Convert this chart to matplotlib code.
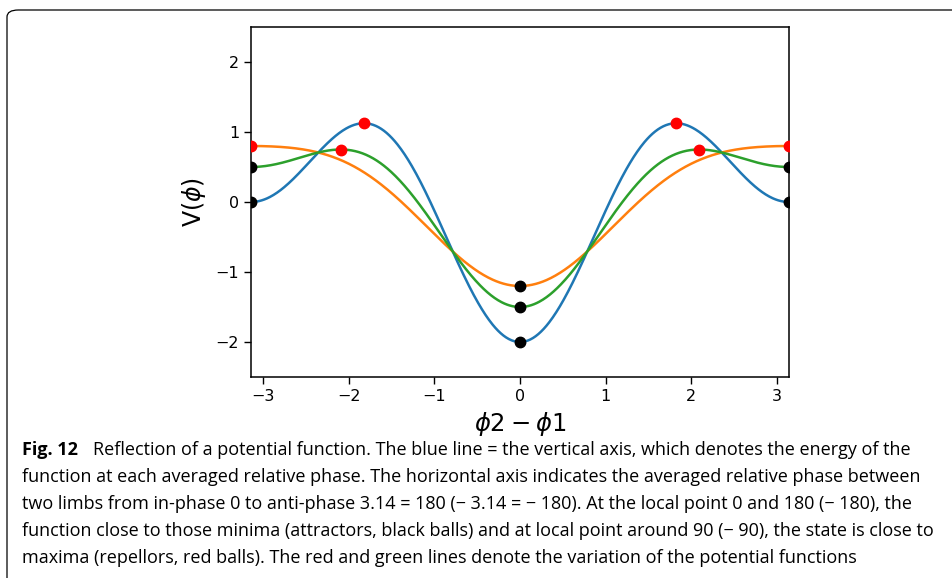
import numpy as np
import matplotlib.pyplot as plt
from matplotlib.patches import FancyBboxPatch

# HKB potential V(phi) = -a cos(phi) - b cos(2 phi), one curve per (a, b) pair
coef_a = [1.0, 1.0, 1.0]
coef_b = [1.0, 0.2, 0.5]
line_colors = ['tab:blue', 'tab:orange', 'tab:green']

# attractors (minima) and repellors (maxima)
min_x = [0.0, 0.0, 0.0, -np.pi, np.pi, -np.pi, np.pi]
min_y = [-2.0, -1.5, -1.2, 0.0, 0.0, 0.5, 0.5]
max_x = [-1.823, 1.823, -2.094, 2.094, -np.pi, np.pi]
max_y = [1.125, 1.125, 0.75, 0.75, 0.8, 0.8]

x_ticks = [-3, -2, -1, 0, 1, 2, 3]
y_ticks = [-2, -1, 0, 1, 2]

caption_head = "Fig. 12"
caption_lines = [
    "Reflection of a potential function. The blue line = the vertical axis, which denotes the energy of the",
    "function at each averaged relative phase. The horizontal axis indicates the averaged relative phase between",
    "two limbs from in-phase 0 to anti-phase 3.14 = 180 (\u2212 3.14 = \u2212 180). At the local point 0 and 180 (\u2212 180), the",
    "function close to those minima (attractors, black balls) and at local point around 90 (\u2212 90), the state is close to",
    "maxima (repellors, red balls). The red and green lines denote the variation of the potential functions",
]

W, H = 953, 578
fig = plt.figure(figsize=(W / 100, H / 100), dpi=100)

# rounded frame around the figure and caption
frame = FancyBboxPatch((7 / W, -30 / H), 1.2, (H - 10 + 30) / H,
                       boxstyle="round,pad=0,rounding_size=0.012",
                       transform=fig.transFigure, fill=False,
                       edgecolor='black', linewidth=0.9)
fig.patches.append(frame)

ax = fig.add_axes([251 / W, (H - 377) / H, 538 / W, 350 / H])

phi = np.linspace(-np.pi, np.pi, 600)
for a, b, c in zip(coef_a, coef_b, line_colors):
    ax.plot(phi, -a * np.cos(phi) - b * np.cos(2 * phi), color=c, lw=1.8)

ax.plot(min_x, min_y, 'o', color='black', ms=7.5, zorder=3)
ax.plot(max_x, max_y, 'o', color='red', ms=7.5, zorder=3)

ax.set_xlim(-np.pi, np.pi)
ax.set_ylim(-2.5, 2.5)
ax.set_xticks(x_ticks)
ax.set_yticks(y_ticks)
ax.tick_params(labelsize=11.5, length=5, width=1)
for s in ax.spines.values():
    s.set_linewidth(1.1)

ax.set_xlabel(r'$\phi 2 - \phi 1$', fontsize=17.5)
ax.set_ylabel(r'$\mathrm{V}(\phi)$', fontsize=17)
ax.xaxis.set_label_coords(0.5, -0.093)
ax.yaxis.set_label_coords(-0.08, 0.5)

# caption below the plot
cap_font = 'Open Sans'
cap_size = 13.0
y0 = H - 455
step = 27
head = fig.text(22 / W, y0 / H, caption_head, fontsize=cap_size,
                fontweight='bold', family=cap_font, va='baseline')
fig.canvas.draw()
head_right = head.get_window_extent().x1
fig.text((head_right + 15) / W, y0 / H, caption_lines[0], fontsize=cap_size,
         family=cap_font, va='baseline')
for i, line in enumerate(caption_lines[1:], start=1):
    fig.text(22 / W, (y0 - i * step) / H, line, fontsize=cap_size,
             family=cap_font, va='baseline')

fig.savefig('out.png', dpi=100)
